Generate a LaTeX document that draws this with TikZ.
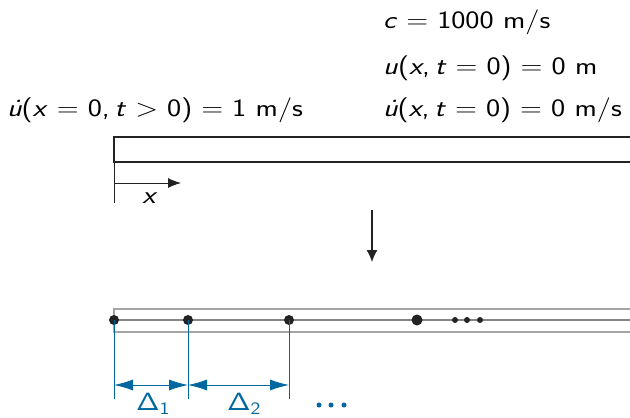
\RequirePackage{fix-cm}
\documentclass[tikz,border=0pt]{standalone}
\usetikzlibrary{arrows.meta}
\definecolor{dimblue}{RGB}{0,104,158}
\definecolor{bargray}{RGB}{165,165,165}
\definecolor{ink}{RGB}{35,35,35}
\newcommand{\vi}[1]{\textit{#1}}
\newcommand{\ud}{\textit{\.u}}
\newcommand{\eq}{\hspace{0.3em}=\hspace{0.3em}}
\newcommand{\wide}[1]{\scalebox{1.2}[1]{#1}}
\begin{document}
\begin{tikzpicture}[x=1pt,y=-1pt,
  lbl/.style={inner sep=0pt,font=\fontsize{25}{29}\selectfont\sffamily},
  dimline/.style={draw=dimblue,line width=0.9pt},
  dimarrow/.style={draw=dimblue,line width=0.9pt,{Latex[length=19pt,width=11pt]}-{Latex[length=19pt,width=11pt]}},
  node dot/.style={circle,fill=ink,inner sep=0pt,minimum size=10pt},
  small dot/.style={circle,fill=ink,inner sep=0pt,minimum size=6pt},
  blue dot/.style={circle,fill=dimblue,inner sep=0pt,minimum size=5pt}]
\useasboundingbox (0,0) rectangle (630,418);
% labels
\node[lbl,anchor=base west] (c) at (383,28) {\wide{\vi{c}\eq1000 m/s}};
\node[lbl,anchor=base west] (u0) at (383,74) {\wide{\vi{u}(\vi{x},\,\vi{t}\eq0)\eq0 m}};
\node[lbl,anchor=base west] (v0) at (383,116) {\wide{\ud(\vi{x},\,\vi{t}\eq0)\eq0 m/s}};
\node[lbl,anchor=base west] (bc) at (7,116) {\wide{\ud(\vi{x}\eq0,\,\vi{t}\hspace{0.3em}>\hspace{0.3em}0)\eq1 m/s}};
% top bar
\draw[draw=ink,line width=1.7pt] (632,137) -- (114,137) -- (114,162) -- (632,162);
\coordinate (ax0) at (114,162);
\coordinate (ax1) at (114,203);
\draw[ink,line width=0.9pt] (ax0) -- (ax1);
\coordinate (xa) at (114,183);
\coordinate (xb) at (181,183);
\draw[ink,line width=0.9pt,-{Latex[length=13pt,width=10pt]}] (xa) -- (xb);
\node[lbl] (xl) at (150,198) {\wide{\vi{x}}};
% down arrow
\coordinate (da) at (372,210);
\coordinate (db) at (372,262);
\draw[ink,line width=1.2pt,-{Latex[length=12pt,width=11pt]}] (da) -- (db);
% bottom discretised bar
\draw[bargray,line width=1.5pt] (632,309) -- (114,309) -- (114,332) -- (632,332);
\coordinate (m0) at (114,320);
\coordinate (m1) at (632,320);
\draw[bargray!80!black,line width=1.5pt] (m0) -- (m1);
\node[node dot] (n1) at (114,320) {};
\node[node dot] (n2) at (188,320) {};
\node[node dot] (n3) at (289,320) {};
\node[node dot,minimum size=11pt] (n4) at (417,320) {};
\node[small dot] (e1) at (455,320) {};
\node[small dot] (e2) at (467,320) {};
\node[small dot] (e3) at (480,320) {};
% dimensions
\coordinate (d1) at (114,399);
\coordinate (d2) at (188,399);
\coordinate (d3) at (289,399);
\draw[dimline] (n1.center) -- (d1);
\draw[dimline] (n2.center) -- (d2);
\draw[dimline] (n3.center) -- (d3);
\coordinate (h1) at (114,385);
\coordinate (h2) at (188,385);
\coordinate (h3) at (289,385);
\draw[dimarrow] (h1) -- (h2);
\draw[dimarrow] (h2) -- (h3);
\node[lbl,text=dimblue] (D1) at (153,404) {\wide{$\mathsf{\Delta_1}$}};
\node[lbl,text=dimblue] (D2) at (244,404) {\wide{$\mathsf{\Delta_2}$}};
\node[blue dot] (b1) at (319,405) {};
\node[blue dot] (b2) at (331,405) {};
\node[blue dot] (b3) at (344,405) {};
\end{tikzpicture}
\end{document}
